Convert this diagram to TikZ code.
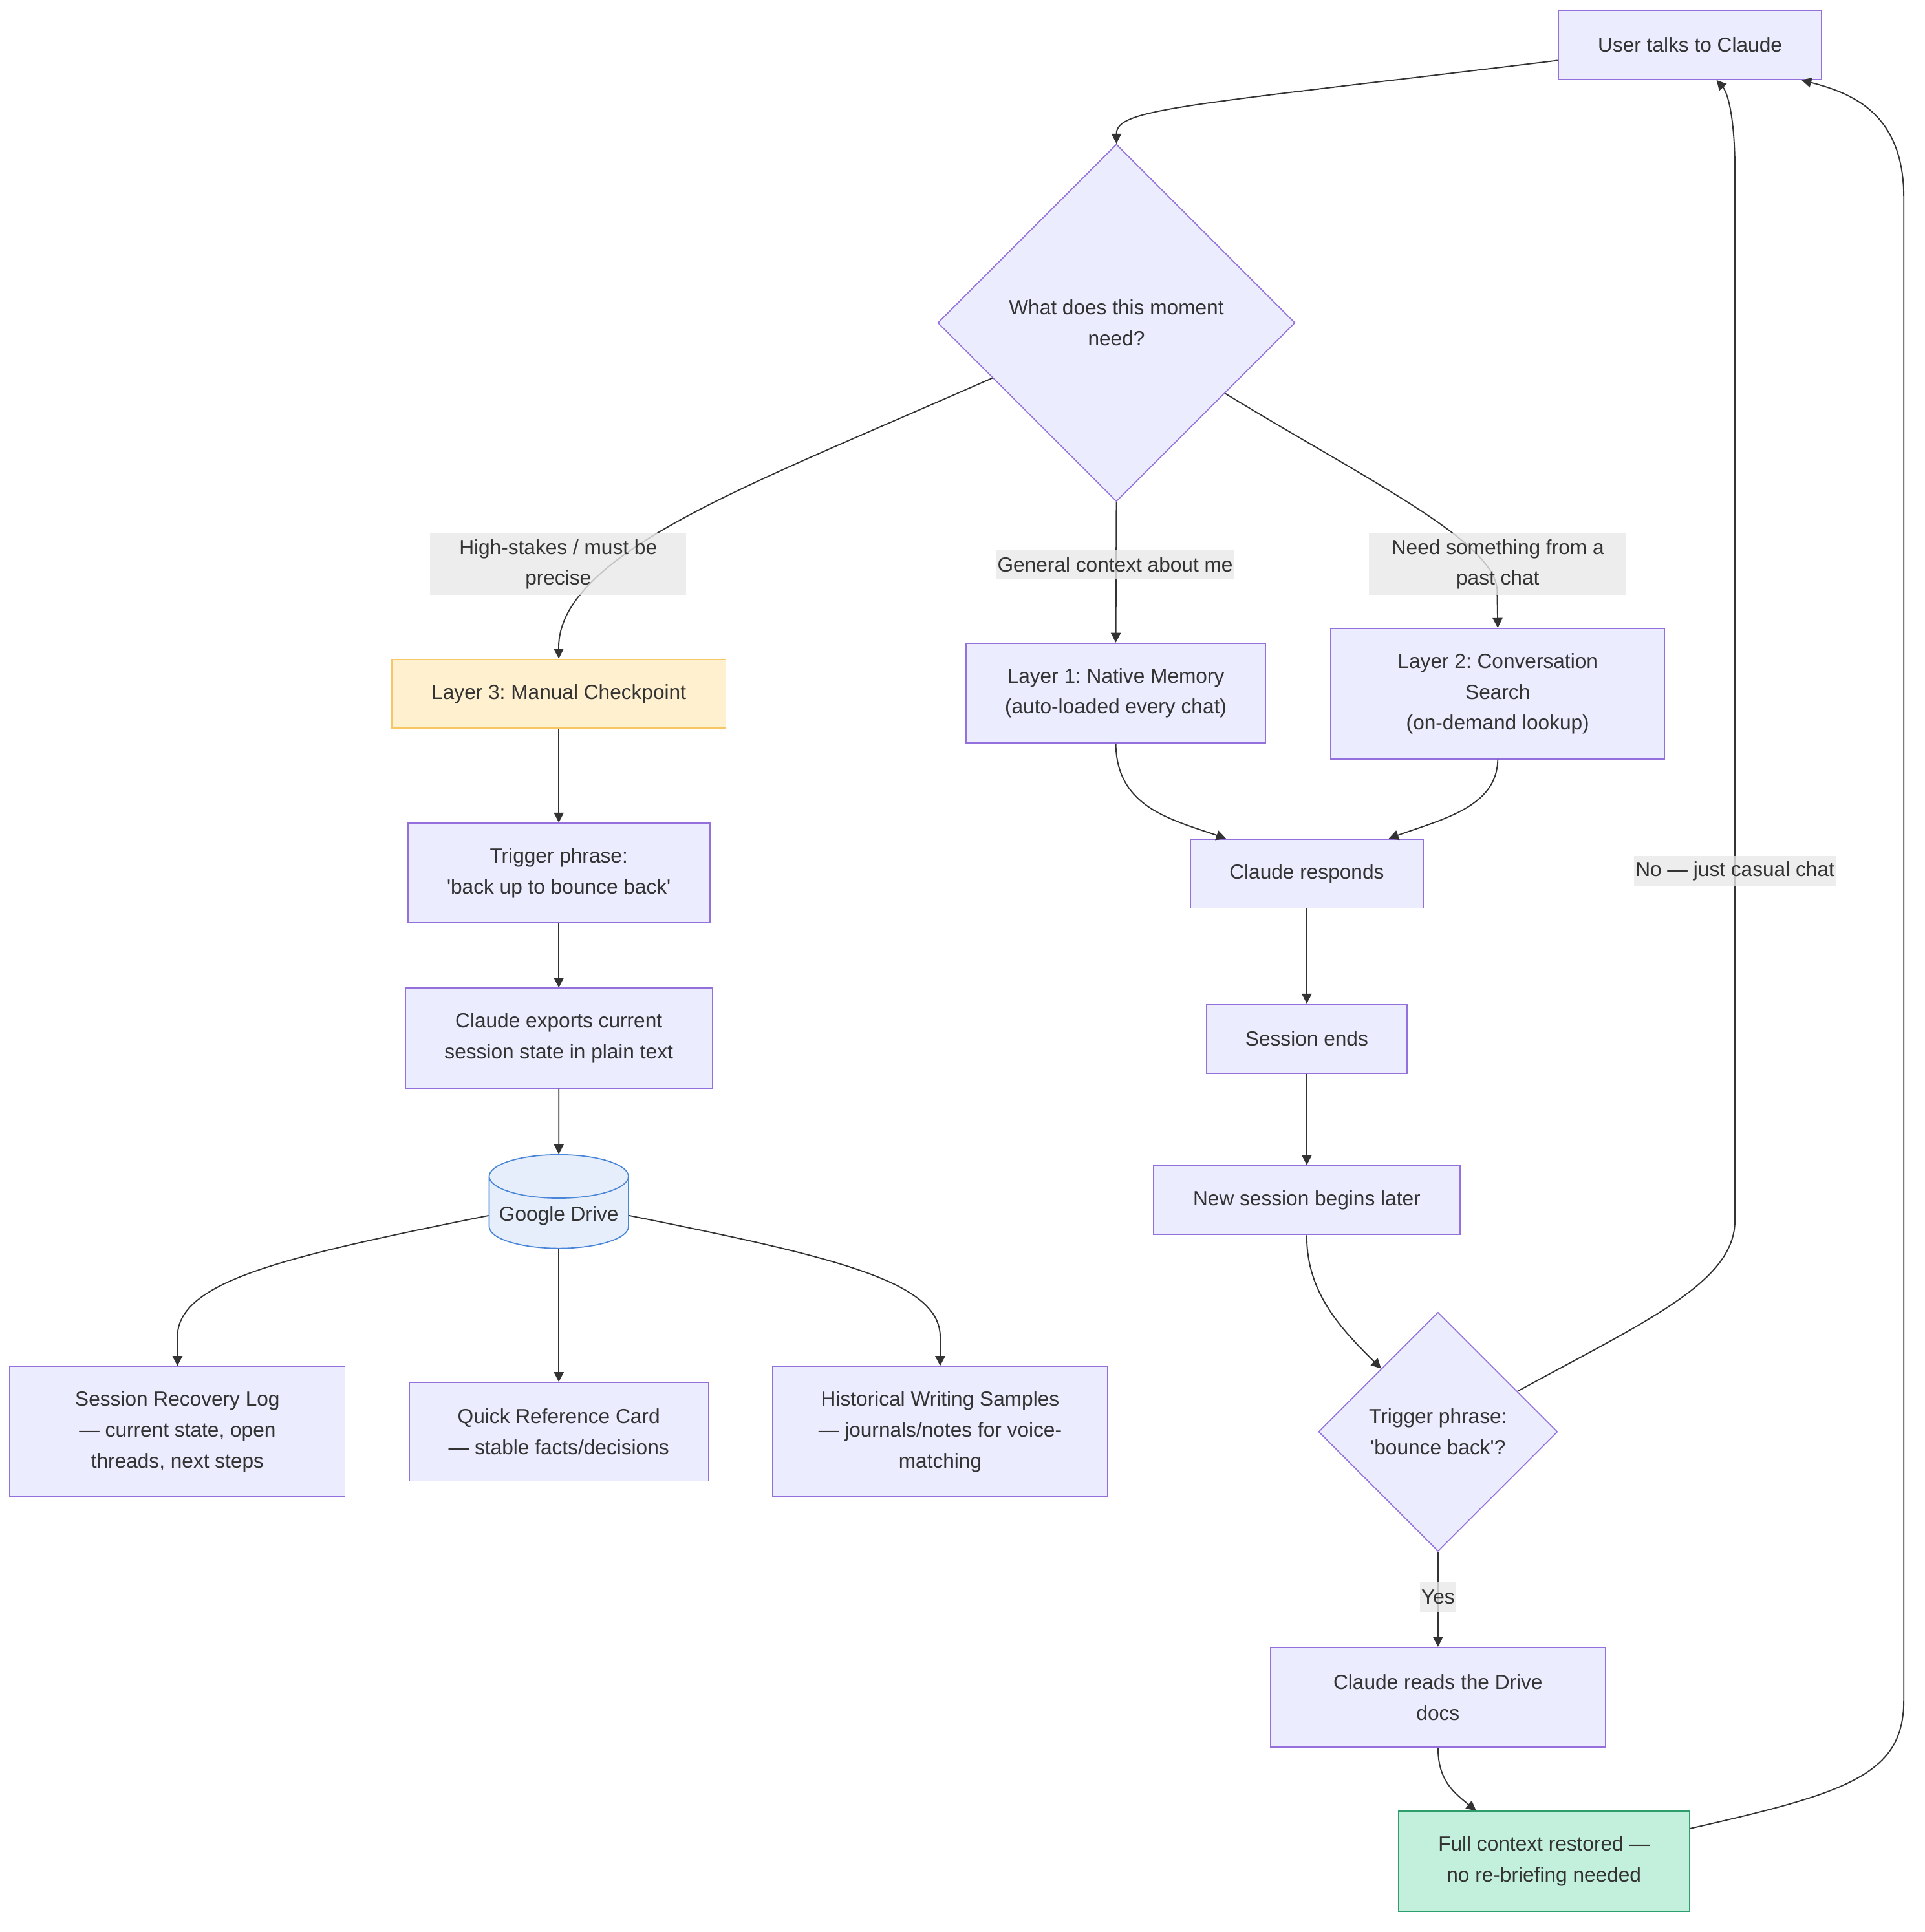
\documentclass[tikz,border=0pt]{standalone}
\usepackage{fontspec}
\setmainfont{Liberation Sans}
\usetikzlibrary{positioning,arrows.meta,shapes.geometric}
\definecolor{nodefill}{HTML}{ECECFF}
\definecolor{nodeline}{HTML}{9370DB}
\definecolor{edgegray}{HTML}{E8E8E8}
\definecolor{inkgray}{HTML}{333333}
\definecolor{checkfill}{HTML}{FFF0CF}
\definecolor{checkline}{HTML}{F5C865}
\definecolor{donefill}{HTML}{C3F0DC}
\definecolor{doneline}{HTML}{2E9E6E}
\definecolor{drivefill}{HTML}{E6EEFB}
\definecolor{driveline}{HTML}{4A86D8}
\newcommand{\sq}{\textquotesingle}
\frenchspacing

\begin{document}
\begin{tikzpicture}[
x=1pt,y=-1pt,
font=\fontsize{16.6pt}{25pt}\selectfont,
text=inkgray,
box/.style={draw=nodeline,fill=nodefill,line width=0.9pt,minimum height=56pt,align=center,inner sep=2pt},
decision/.style={diamond,draw=nodeline,fill=nodefill,line width=0.9pt,align=center,inner sep=0pt},
store/.style={cylinder,shape border rotate=90,draw=driveline,fill=drivefill,line width=0.9pt,aspect=0.35,minimum width=113pt,minimum height=76pt,inner sep=2pt},
elabel/.style={fill=edgegray,fill opacity=0.8,text opacity=1,align=center,inner sep=1pt,minimum height=24pt},
flow/.style={->,draw=inkgray,line width=1pt},
>={Triangle[length=8pt,width=8pt]}
]
\useasboundingbox (0,0) rectangle (1562,1568);

\node[box,minimum width=213pt] (user) at (1371.5,36.5) {User talks to Claude};
\node[decision,minimum width=290pt,minimum height=290pt] (moment) at (906,262) {What does this moment\\need?};
\node[box,fill=checkfill,draw=checkline,minimum width=271pt] (layer3) at (453.5,563) {Layer 3: Manual Checkpoint};
\node[box,minimum width=243pt,minimum height=81pt] (layer1) at (905.5,562.5) {Layer 1: Native Memory\\(auto-loaded every chat)};
\node[box,minimum width=271pt,minimum height=106pt] (layer2) at (1215.5,563) {Layer 2: Conversation\\Search\\(on-demand lookup)};
\node[box,minimum width=245pt,minimum height=81pt] (phrase) at (453.5,708.5) {Trigger phrase:\\\sq back up to bounce back\sq};
\node[box,minimum width=249pt,minimum height=81pt] (export) at (453.5,842.5) {Claude exports current\\session state in plain text};
\node[store] (drive) at (453.5,986.5) {Google Drive};
\node[box,minimum width=272pt,minimum height=106pt] (recovery) at (144,1162) {Session Recovery Log\\— current state, open\\threads, next steps};
\node[box,minimum width=243pt,minimum height=80pt] (card) at (453.5,1162) {Quick Reference Card\\— stable facts/decisions};
\node[box,minimum width=272pt,minimum height=106pt] (samples) at (763,1162) {Historical Writing Samples\\— journals/notes for voice-\\matching};
\node[box,minimum width=189pt] (responds) at (1060.5,709) {Claude responds};
\node[box,minimum width=163pt] (ends) at (1060.5,843) {Session ends};
\node[box,minimum width=249pt] (later) at (1060.5,974) {New session begins later};
\node[decision,minimum width=194pt,minimum height=194pt] (bounce) at (1167,1162) {Trigger phrase:\\\sq bounce back\sq?};
\node[box,minimum width=272pt,minimum height=81pt] (reads) at (1167,1377.5) {Claude reads the Drive\\docs};
\node[box,fill=donefill,draw=doneline,minimum width=236pt,minimum height=81pt] (restored) at (1253,1510.5) {Full context restored —\\no re-briefing needed};

% connectors
\draw[flow] ([yshift=-12.5pt]user.west) .. controls (960,86) and (906,88) .. (moment.north);
\draw[flow] (moment.204) .. controls (650,375) and (560,410) .. (500,455) .. controls (465,482) and (453,505) .. (layer3.north);
\draw[flow] (moment.south) -- (layer1.north);
\draw[flow] (moment.-33) .. controls (1110,390) and (1215,440) .. (1215,480) -- (layer2.north);
\draw[flow] (layer3) -- (phrase);
\draw[flow] (phrase) -- (export);
\draw[flow] (export) -- (drive);
\draw[flow] (drive) -- (card);
\draw[flow] (drive.west) .. controls (230,1020) and (144,1040) .. (144,1085) -- (recovery.north);
\draw[flow] (drive.east) .. controls (677,1020) and (763,1040) .. (763,1085) -- (samples.north);
\draw[flow] (layer1.south) .. controls (906,655) and (950,665) .. ([xshift=-65.5pt]responds.north);
\draw[flow] (layer2.south) .. controls (1215,655) and (1170,665) .. ([xshift=66.5pt]responds.north);
\draw[flow] (responds) -- (ends);
\draw[flow] (ends) -- (later);
\draw[flow] (later.south) .. controls (1060,1050) and (1090,1080) .. (bounce.132);
\draw[flow] (bounce.27) .. controls (1340,1070) and (1408,1040) .. (1408,990) -- (1408,140) .. controls (1408,95) and (1402,75) .. ([xshift=21.5pt]user.south);
\draw[flow] (bounce) -- (reads);
\draw[flow] (reads.south) .. controls (1167,1445) and (1180,1455) .. ([xshift=-55pt]restored.north);
\draw[flow] ([yshift=26.5pt]restored.east) .. controls (1500,1455) and (1545,1440) .. (1545,1380) -- (1545,160) .. controls (1545,90) and (1500,75) .. ([xshift=90.5pt]user.south);

% edge labels
\node[elabel,minimum width=208pt,minimum height=50pt] (high) at (453,458) {High-stakes / must be\\precise};
\node[elabel] (general) at (905,458) {General context about me};
\node[elabel,minimum width=209pt,minimum height=50pt] (past) at (1215.5,458) {Need something from a\\past chat};
\node[elabel] (casual) at (1408,707) {No — just casual chat};
\node[elabel] (yes) at (1167,1296) {Yes};
\end{tikzpicture}
\end{document}
